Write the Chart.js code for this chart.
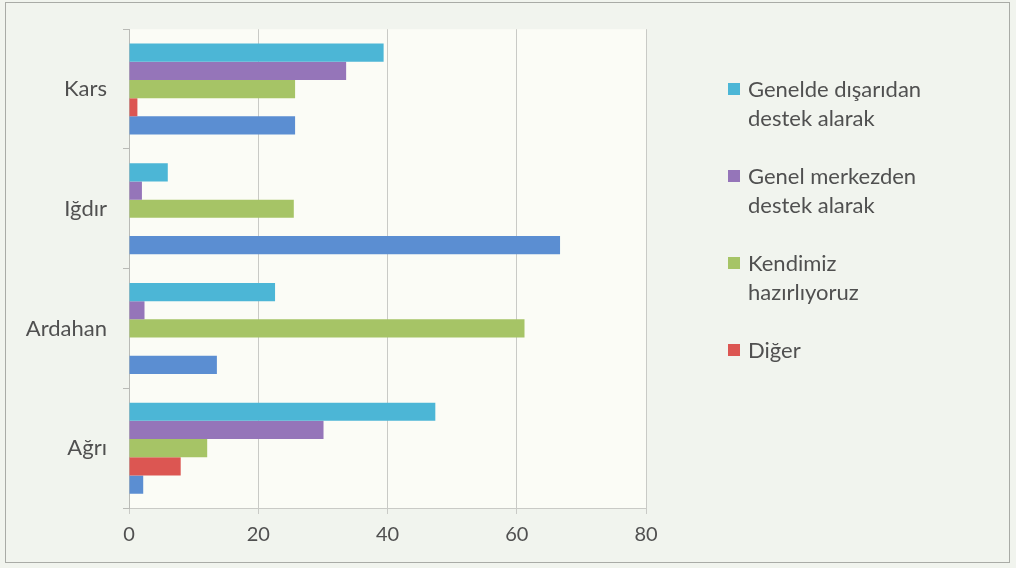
<!DOCTYPE html>
<html>
<head>
<meta charset="utf-8">
<script src="https://cdn.jsdelivr.net/npm/chart.js@4"></script>
<style>
  html, body { margin: 0; padding: 0; background: #f1f4ee; }
  .frame {
    position: absolute; left: 5px; top: 2px; width: 1005px; height: 561px;
    border: 1px solid #a9aba6; box-sizing: border-box;
  }
  .wrap { position: relative; width: 1016px; height: 568px; }
  canvas { position: absolute; left: 0; top: 0; }
  .legend {
    position: absolute; left: 728px; top: 74px;
    font-family: Lato, 'Open Sans', sans-serif; font-size: 22px; color: #505050;
  }
  .legend-item { position: relative; padding-left: 20px; line-height: 29px; height: 87px; }
  .legend-item .sw { position: absolute; left: 0; top: 9px; width: 12px; height: 12px; }
</style>
</head>
<body>
<div class="wrap">
  <canvas id="chart" width="1016" height="568"></canvas>
  <div class="frame"></div>
  <div class="legend" id="legend"></div>
</div>
<script>
const categories = ['Kars', 'Iğdır', 'Ardahan', 'Ağrı'];
const seriesNames = ['Genelde dışarıdan destek alarak', 'Genel merkezden destek alarak', 'Kendimiz hazırlıyoruz', 'Diğer', ''];
const legendLines = [
  ['Genelde dışarıdan', 'destek alarak'],
  ['Genel merkezden', 'destek alarak'],
  ['Kendimiz', 'hazırlıyoruz'],
  ['Diğer'],
];
const disaridan = [39.4, 6.0, 22.6, 47.4];
const genelMerkez = [33.6, 2.0, 2.4, 30.1];
const kendimiz = [25.7, 25.5, 61.2, 12.1];
const diger = [1.3, 0, 0, 8.0];
const besinci = [25.7, 66.7, 13.6, 2.2];
const xTicks = [0, 20, 40, 60, 80];
const colors = ['#4cb6d6', '#9575b9', '#a6c466', '#dc5652', '#5b8ed2'];

const seriesValues = [disaridan, genelMerkez, kendimiz, diger, besinci];

const plotBg = {
  id: 'plotBg',
  beforeDraw(chart) {
    const { ctx, chartArea: a } = chart;
    ctx.save();
    ctx.fillStyle = '#fbfcf6';
    ctx.fillRect(a.left, a.top, a.right - a.left, a.bottom - a.top);
    ctx.restore();
  },
};

new Chart(document.getElementById('chart'), {
  type: 'bar',
  data: {
    labels: categories,
    datasets: seriesValues.map((vals, i) => ({
      label: seriesNames[i],
      data: vals,
      backgroundColor: colors[i],
      borderWidth: 0,
      barPercentage: 1,
      categoryPercentage: 0.76,
    })),
  },
  options: {
    indexAxis: 'y',
    responsive: false,
    animation: false,
    layout: { padding: { top: 27, right: 370, left: 0, bottom: 0 } },
    plugins: { legend: { display: false }, tooltip: { enabled: false } },
    scales: {
      x: {
        min: 0,
        max: 80,
        afterBuildTicks: (scale) => { scale.ticks = xTicks.map((v) => ({ value: v })); },
        afterFit: (scale) => { scale.height = 60; },
        grid: { color: '#c9cac6', tickLength: 6, drawTicks: true },
        border: { color: '#c9cac6' },
        ticks: {
          color: '#505050',
          padding: 9,
          font: { family: 'Lato, "Open Sans", sans-serif', size: 20 },
        },
      },
      y: {
        afterFit: (scale) => { scale.width = 129; },
        grid: { drawOnChartArea: false, tickLength: 6, color: '#b9bab6' },
        border: { color: '#b9bab6' },
        ticks: {
          color: '#505050',
          padding: 16,
          font: { family: 'Lato, "Open Sans", sans-serif', size: 22 },
        },
      },
    },
  },
  plugins: [plotBg],
});

const legendEl = document.getElementById('legend');
legendLines.forEach((lines, i) => {
  const item = document.createElement('div');
  item.className = 'legend-item';
  item.innerHTML = '<span class="sw" style="background:' + colors[i] + '"></span>' + lines.join('<br>');
  legendEl.appendChild(item);
});
</script>
</body>
</html>
